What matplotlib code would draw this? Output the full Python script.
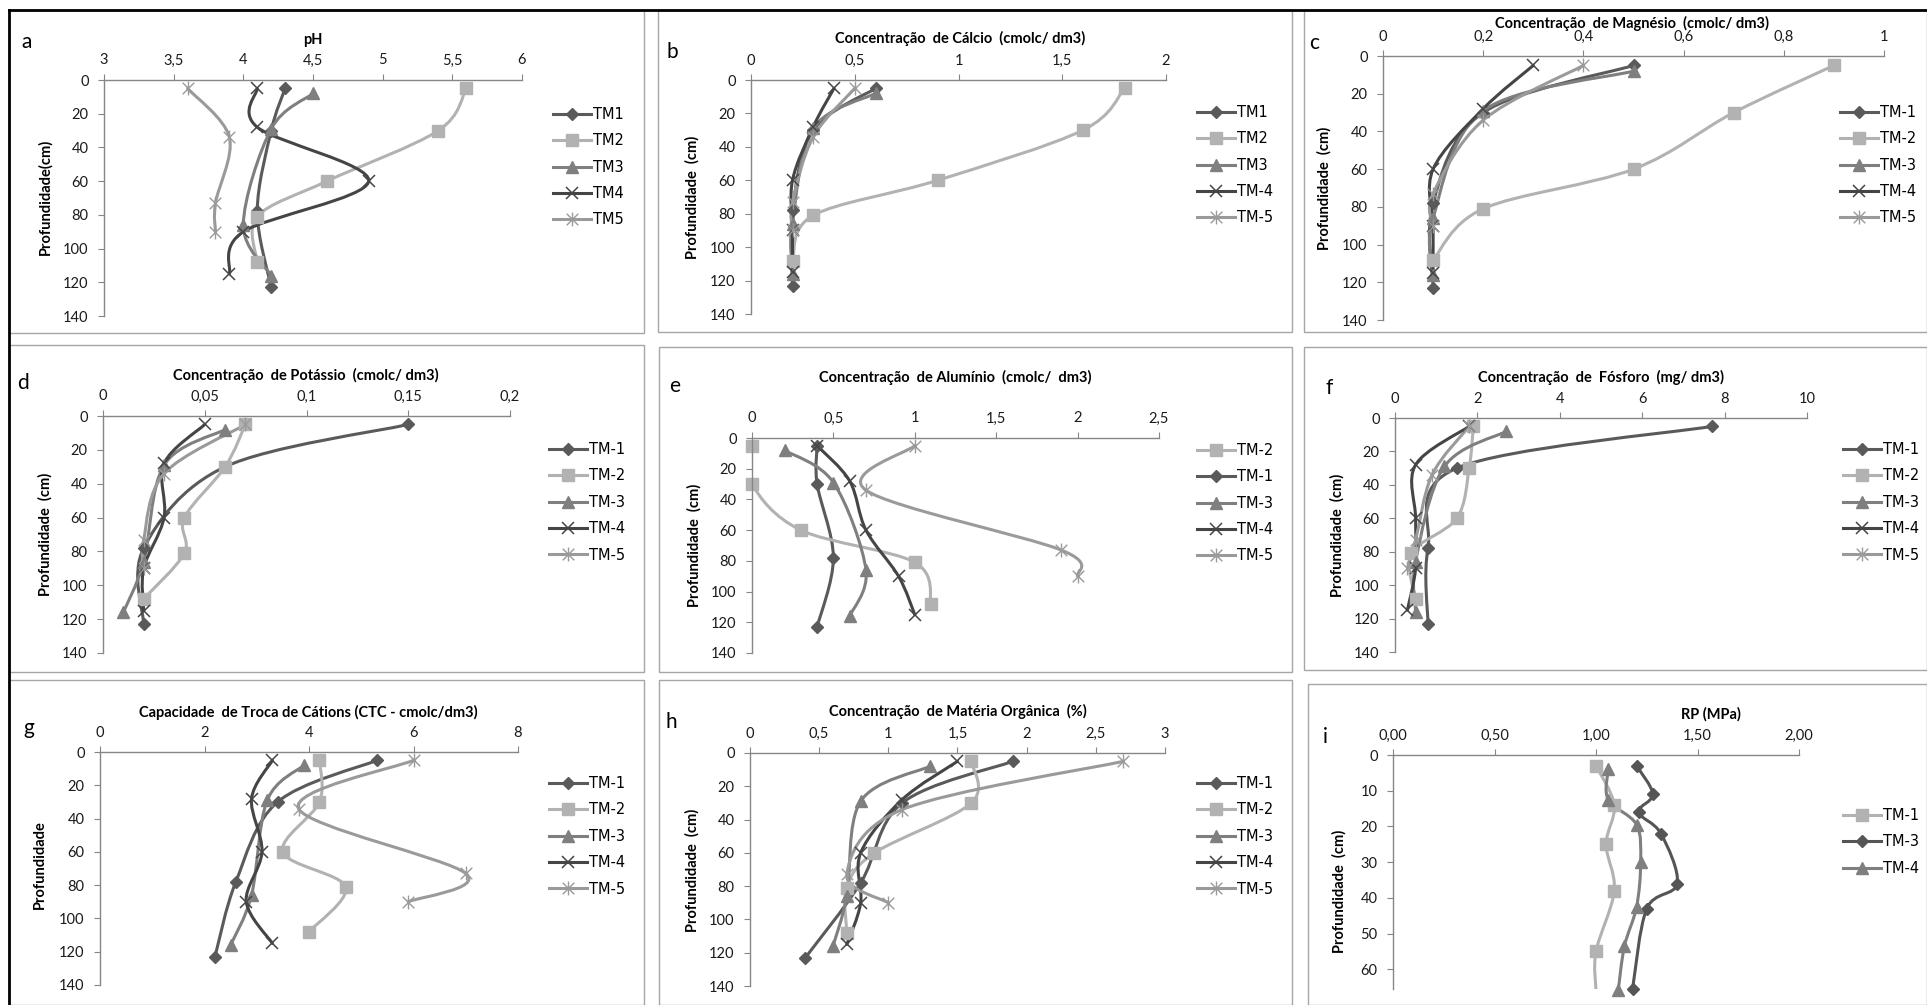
"""Soil chemistry and penetration resistance depth profiles for the TM sampling points."""

import matplotlib

matplotlib.use("Agg")

import matplotlib.pyplot as plt
import numpy as np
from matplotlib.lines import Line2D
from matplotlib.patches import PathPatch, Rectangle
from matplotlib.path import Path

W, H = 1927, 1005

# sampling depths (cm) of each profile
DEPTH_TM1 = [5, 30, 78, 123]
DEPTH_TM2 = [5, 30, 60, 81, 108]
DEPTH_TM3 = [8, 29, 86, 116]
DEPTH_TM4 = [5, 28, 60, 90, 115]
DEPTH_TM5 = [5, 34, 73, 90]

PH_TM1 = [4.3, 4.2, 4.1, 4.2]
PH_TM2 = [5.6, 5.4, 4.6, 4.1, 4.1]
PH_TM3 = [4.5, 4.2, 4.0, 4.2]
PH_TM4 = [4.1, 4.1, 4.9, 4.0, 3.9]
PH_TM5 = [3.6, 3.9, 3.8, 3.8]

CA_TM1 = [0.6, 0.3, 0.2, 0.2]
CA_TM2 = [1.8, 1.6, 0.9, 0.3, 0.2]
CA_TM3 = [0.6, 0.3, 0.2, 0.2]
CA_TM4 = [0.4, 0.3, 0.2, 0.2, 0.2]
CA_TM5 = [0.5, 0.3, 0.2, 0.2]

MG_TM1 = [0.5, 0.2, 0.1, 0.1]
MG_TM2 = [0.9, 0.7, 0.5, 0.2, 0.1]
MG_TM3 = [0.5, 0.2, 0.1, 0.1]
MG_TM4 = [0.3, 0.2, 0.1, 0.1, 0.1]
MG_TM5 = [0.4, 0.2, 0.1, 0.1]

K_TM1 = [0.15, 0.06, 0.02, 0.02]
K_TM2 = [0.07, 0.06, 0.04, 0.04, 0.02]
K_TM3 = [0.06, 0.03, 0.02, 0.01]
K_TM4 = [0.05, 0.03, 0.03, 0.02, 0.02]
K_TM5 = [0.07, 0.03, 0.02, 0.02]

AL_TM1 = [0.4, 0.4, 0.5, 0.4]
AL_TM2 = [0.0, 0.0, 0.3, 1.0, 1.1]
AL_TM3 = [0.2, 0.5, 0.7, 0.6]
AL_TM4 = [0.4, 0.6, 0.7, 0.9, 1.0]
AL_TM5 = [1.0, 0.7, 1.9, 2.0]

P_TM1 = [7.7, 1.5, 0.8, 0.8]
P_TM2 = [1.9, 1.8, 1.5, 0.4, 0.5]
P_TM3 = [2.7, 1.2, 0.5, 0.5]
P_TM4 = [1.8, 0.5, 0.5, 0.5, 0.3]
P_TM5 = [1.8, 0.9, 0.5, 0.3]

CTC_TM1 = [5.3, 3.4, 2.6, 2.2]
CTC_TM2 = [4.2, 4.2, 3.5, 4.7, 4.0]
CTC_TM3 = [3.9, 3.2, 2.9, 2.5]
CTC_TM4 = [3.3, 2.9, 3.1, 2.8, 3.3]
CTC_TM5 = [6.0, 3.8, 7.0, 5.9]

MO_TM1 = [1.9, 1.1, 0.8, 0.4]
MO_TM2 = [1.6, 1.6, 0.9, 0.7, 0.7]
MO_TM3 = [1.3, 0.8, 0.7, 0.6]
MO_TM4 = [1.5, 1.1, 0.8, 0.8, 0.7]
MO_TM5 = [2.7, 1.1, 0.7, 1.0]

# penetration resistance (panel i)
RP_DEPTH_TM1 = [3, 14, 25, 38, 55, 66]
RP_TM1 = [1.00, 1.09, 1.05, 1.09, 1.00, 1.00]
RP_DEPTH_TM3 = [3, 11, 16, 22, 36, 43, 65.5]
RP_TM3 = [1.20, 1.28, 1.21, 1.32, 1.40, 1.25, 1.18]
RP_DEPTH_TM4 = [4, 12.5, 19.5, 30, 42.5, 53.5, 65.7]
RP_TM4 = [1.06, 1.06, 1.20, 1.22, 1.20, 1.14, 1.11]

NAMES_PLAIN = ["TM1", "TM2", "TM3", "TM4", "TM5"]
NAMES_DASH = ["TM-1", "TM-2", "TM-3", "TM-4", "TM-5"]

DEPTH_TICKS = [0, 20, 40, 60, 80, 100, 120, 140]
RP_DEPTH_TICKS = [0, 10, 20, 30, 40, 50, 60]

FONT = ["Lato", "DejaVu Sans"]
AXIS_GRAY = "#868686"
TEXT = "#1a1a1a"
SIZE = 10.5

ASTERISK = Path(
    [(-1, -1), (1, 1), (-1, 1), (1, -1), (0, -1.2), (0, 1.2)],
    [Path.MOVETO, Path.LINETO, Path.MOVETO, Path.LINETO, Path.MOVETO, Path.LINETO],
)

STYLE = {
    "TM1": dict(color="#5a5a5a", marker="D", ms=6.5, mew=1),
    "TM2": dict(color="#b2b2b2", marker="s", ms=8, mew=1),
    "TM3": dict(color="#7f7f7f", marker="^", ms=8, mew=1),
    "TM4": dict(color="#454545", marker="x", ms=9, mew=1.1),
    "TM5": dict(color="#9a9a9a", marker=ASTERISK, ms=10, mew=1),
}


def fx(x):
    return x / W


def fy(y):
    return 1 - y / H


def smooth_path(xs, ys):
    """Excel-like smoothed line: Catmull-Rom segments as cubic Beziers."""
    pts = np.column_stack([xs, ys]).astype(float)
    n = len(pts)
    verts = [pts[0]]
    codes = [Path.MOVETO]
    for i in range(n - 1):
        p0 = pts[i - 1] if i > 0 else pts[i]
        p1, p2 = pts[i], pts[i + 1]
        p3 = pts[i + 2] if i + 2 < n else pts[i + 1]
        verts += [p1 + (p2 - p0) / 6, p2 - (p3 - p1) / 6, p2]
        codes += [Path.CURVE4] * 3
    return Path(verts, codes)


def draw_series(ax, values, depths, style, label, markevery=None):
    ax.add_patch(
        PathPatch(
            smooth_path(values, depths),
            facecolor="none",
            edgecolor=style["color"],
            lw=2.2,
            capstyle="round",
            joinstyle="round",
        )
    )
    ax.plot(
        values,
        depths,
        linestyle="none",
        marker=style["marker"],
        ms=style["ms"],
        mew=style["mew"],
        color=style["color"],
        markevery=markevery,
        clip_on=False,
    )
    return Line2D(
        [], [], color=style["color"], lw=2.2, marker=style["marker"],
        ms=style["ms"], mew=style["mew"], label=label,
    )


def make_panel(fig, box, xlim, xticks, xticklabels, ylim, yticks):
    x0, y0, x1, y1 = box
    ax = fig.add_axes([fx(x0), fy(y1), (x1 - x0) / W, (y1 - y0) / H])
    ax.set_xlim(*xlim)
    ax.set_ylim(ylim, 0)
    ax.set_xticks(xticks)
    ax.set_xticklabels(xticklabels)
    ax.set_yticks(yticks)
    ax.xaxis.tick_top()
    for side in ("right", "bottom"):
        ax.spines[side].set_visible(False)
    for side in ("top", "left"):
        ax.spines[side].set_color(AXIS_GRAY)
        ax.spines[side].set_linewidth(1.0)
    ax.tick_params(axis="x", direction="out", length=4, pad=5, color=AXIS_GRAY,
                   labelcolor=TEXT, labelsize=SIZE)
    ax.tick_params(axis="y", direction="out", length=4, pad=7, color=AXIS_GRAY,
                   labelcolor=TEXT, labelsize=SIZE)
    for lab in ax.get_xticklabels() + ax.get_yticklabels():
        lab.set_family(FONT)
    ax.patch.set_alpha(0)
    return ax


def add_texts(fig, title, title_xy, ylabel, ylabel_xy, letter, letter_xy):
    fig.text(fx(title_xy[0]), fy(title_xy[1]), title, ha="center", va="center",
             fontsize=SIZE, fontweight="bold", family=FONT, color="black")
    fig.text(fx(ylabel_xy[0]), fy(ylabel_xy[1]), ylabel, ha="center", va="center",
             rotation=90, fontsize=SIZE, fontweight="bold", family=FONT, color="black")
    fig.text(fx(letter_xy[0]), fy(letter_xy[1]), letter, ha="center", va="center",
             fontsize=15, family=FONT, color="black")


def add_legend(ax, handles, x, y):
    ax.legend(
        handles=handles,
        loc="upper left",
        bbox_to_anchor=(fx(x), fy(y)),
        bbox_transform=ax.figure.transFigure,
        frameon=False,
        borderpad=0,
        borderaxespad=0,
        handlelength=2.6,
        handletextpad=0.15,
        labelspacing=0.78,
        prop=dict(family="DejaVu Sans", size=SIZE),
    )


def five_profiles(ax, values, names, order=(0, 1, 2, 3, 4)):
    depths = [DEPTH_TM1, DEPTH_TM2, DEPTH_TM3, DEPTH_TM4, DEPTH_TM5]
    handles = []
    for i in range(5):
        key = NAMES_PLAIN[i]
        handles.append(draw_series(ax, values[i], depths[i], STYLE[key], names[i]))
    return [handles[i] for i in order]


def main():
    fig = plt.figure(figsize=(W / 100, H / 100), dpi=100)

    # panel frames
    frames = [
        (9, 10, 644, 333), (658, 10, 1292, 332), (1304, 10, 1927, 332),
        (9, 345, 644, 672), (659, 347, 1292, 672), (1304, 347, 1927, 670),
        (9, 680, 644, 1005), (659, 680, 1292, 1005), (1308, 684, 1927, 1005),
    ]
    for x0, y0, x1, y1 in frames:
        fig.add_artist(Rectangle((fx(x0), fy(y1)), (x1 - x0) / W, (y1 - y0) / H,
                                 transform=fig.transFigure, facecolor="none",
                                 edgecolor="#a6a6a6", lw=1.0))
    fig.add_artist(Line2D([fx(9), 1], [fy(10), fy(10)], color="black", lw=2,
                          transform=fig.transFigure))
    fig.add_artist(Line2D([fx(9), fx(9)], [fy(10), 0], color="black", lw=2,
                          transform=fig.transFigure))

    # a - pH
    ax = make_panel(fig, (104, 80, 522, 316), (3, 6), [3, 3.5, 4, 4.5, 5, 5.5, 6],
                    ["3", "3,5", "4", "4,5", "5", "5,5", "6"], 140, DEPTH_TICKS)
    h = five_profiles(ax, [PH_TM1, PH_TM2, PH_TM3, PH_TM4, PH_TM5], NAMES_PLAIN)
    add_legend(ax, h, 553, 107)
    add_texts(fig, "pH", (313, 40), "Profundidade(cm)", (45, 197), "a", (27, 42))

    # b - calcium
    ax = make_panel(fig, (751, 80, 1166, 314), (0, 2), [0, 0.5, 1, 1.5, 2],
                    ["0", "0,5", "1", "1,5", "2"], 140, DEPTH_TICKS)
    h = five_profiles(ax, [CA_TM1, CA_TM2, CA_TM3, CA_TM4, CA_TM5],
                      ["TM1", "TM2", "TM3", "TM-4", "TM-5"])
    add_legend(ax, h, 1197, 105)
    add_texts(fig, "Concentração  de Cálcio  (cmolc/ dm3)", (960, 38),
              "Profundidade  (cm)", (692, 197), "b", (672, 52))

    # c - magnesium
    ax = make_panel(fig, (1383, 56, 1884, 320), (0, 1), [0, 0.2, 0.4, 0.6, 0.8, 1],
                    ["0", "0,2", "0,4", "0,6", "0,8", "1"], 140, DEPTH_TICKS)
    h = five_profiles(ax, [MG_TM1, MG_TM2, MG_TM3, MG_TM4, MG_TM5], NAMES_DASH)
    add_legend(ax, h, 1840, 105)
    add_texts(fig, "Concentração  de Magnésio  (cmolc/ dm3)", (1632, 23),
              "Profundidade  (cm)", (1324, 188), "c", (1314, 43))

    # d - potassium
    ax = make_panel(fig, (103, 416, 510, 653), (0, 0.2), [0, 0.05, 0.1, 0.15, 0.2],
                    ["0", "0,05", "0,1", "0,15", "0,2"], 140, DEPTH_TICKS)
    h = five_profiles(ax, [K_TM1, K_TM2, K_TM3, K_TM4, K_TM5], NAMES_DASH)
    add_legend(ax, h, 549, 442)
    add_texts(fig, "Concentração  de Potássio  (cmolc/ dm3)", (306, 375),
              "Profundidade  (cm)", (45, 534), "d", (23, 383))

    # e - aluminium
    ax = make_panel(fig, (752, 438, 1159, 653), (0, 2.5), [0, 0.5, 1, 1.5, 2, 2.5],
                    ["0", "0,5", "1", "1,5", "2", "2,5"], 140, DEPTH_TICKS)
    h = five_profiles(ax, [AL_TM1, AL_TM2, AL_TM3, AL_TM4, AL_TM5], NAMES_DASH,
                      order=(1, 0, 2, 3, 4))
    add_legend(ax, h, 1197, 443)
    add_texts(fig, "Concentração  de Alumínio  (cmolc/  dm3)", (955, 377),
              "Profundidade  (cm)", (694, 545), "e", (675, 386))

    # f - phosphorus
    ax = make_panel(fig, (1395, 418, 1807, 652), (0, 10), [0, 2, 4, 6, 8, 10],
                    ["0", "2", "4", "6", "8", "10"], 140, DEPTH_TICKS)
    h = five_profiles(ax, [P_TM1, P_TM2, P_TM3, P_TM4, P_TM5], NAMES_DASH)
    add_legend(ax, h, 1843, 442)
    add_texts(fig, "Concentração  de  Fósforo  (mg/ dm3)", (1601, 377),
              "Profundidade  (cm)", (1337, 535), "f", (1329, 388))

    # g - cation exchange capacity
    ax = make_panel(fig, (100, 752, 518, 985), (0, 8), [0, 2, 4, 6, 8],
                    ["0", "2", "4", "6", "8"], 140, DEPTH_TICKS)
    h = five_profiles(ax, [CTC_TM1, CTC_TM2, CTC_TM3, CTC_TM4, CTC_TM5], NAMES_DASH)
    add_legend(ax, h, 549, 776)
    add_texts(fig, "Capacidade  de Troca de Cátions (CTC - cmolc/dm3)", (308, 712),
              "Profundidade", (40, 865), "g", (29, 728))

    # h - organic matter
    ax = make_panel(fig, (750, 753, 1165, 986), (0, 3), [0, 0.5, 1, 1.5, 2, 2.5, 3],
                    ["0", "0,5", "1", "1,5", "2", "2,5", "3"], 140, DEPTH_TICKS)
    h = five_profiles(ax, [MO_TM1, MO_TM2, MO_TM3, MO_TM4, MO_TM5], NAMES_DASH)
    add_legend(ax, h, 1197, 776)
    add_texts(fig, "Concentração  de Matéria Orgânica  (%)", (958, 711),
              "Profundidade  (cm)", (692, 870), "h", (671, 722))

    # i - penetration resistance
    ax = make_panel(fig, (1393, 755, 1799, 989), (0, 2), [0, 0.5, 1, 1.5, 2],
                    ["0,00", "0,50", "1,00", "1,50", "2,00"], 65.5, RP_DEPTH_TICKS)
    h1 = draw_series(ax, RP_TM1, RP_DEPTH_TM1, STYLE["TM2"], "TM-1",
                     markevery=slice(0, 5))
    dark = dict(STYLE["TM1"], color="#555555")
    h3 = draw_series(ax, RP_TM3, RP_DEPTH_TM3, dark, "TM-3")
    h4 = draw_series(ax, RP_TM4, RP_DEPTH_TM4, STYLE["TM3"], "TM-4")
    add_legend(ax, [h1, h3, h4], 1843, 808)
    add_texts(fig, "RP (MPa)", (1711, 714), "Profundidade  (cm)", (1339, 891),
              "i", (1325, 737))

    fig.savefig("out.png", dpi=100, facecolor="white")


if __name__ == "__main__":
    main()
